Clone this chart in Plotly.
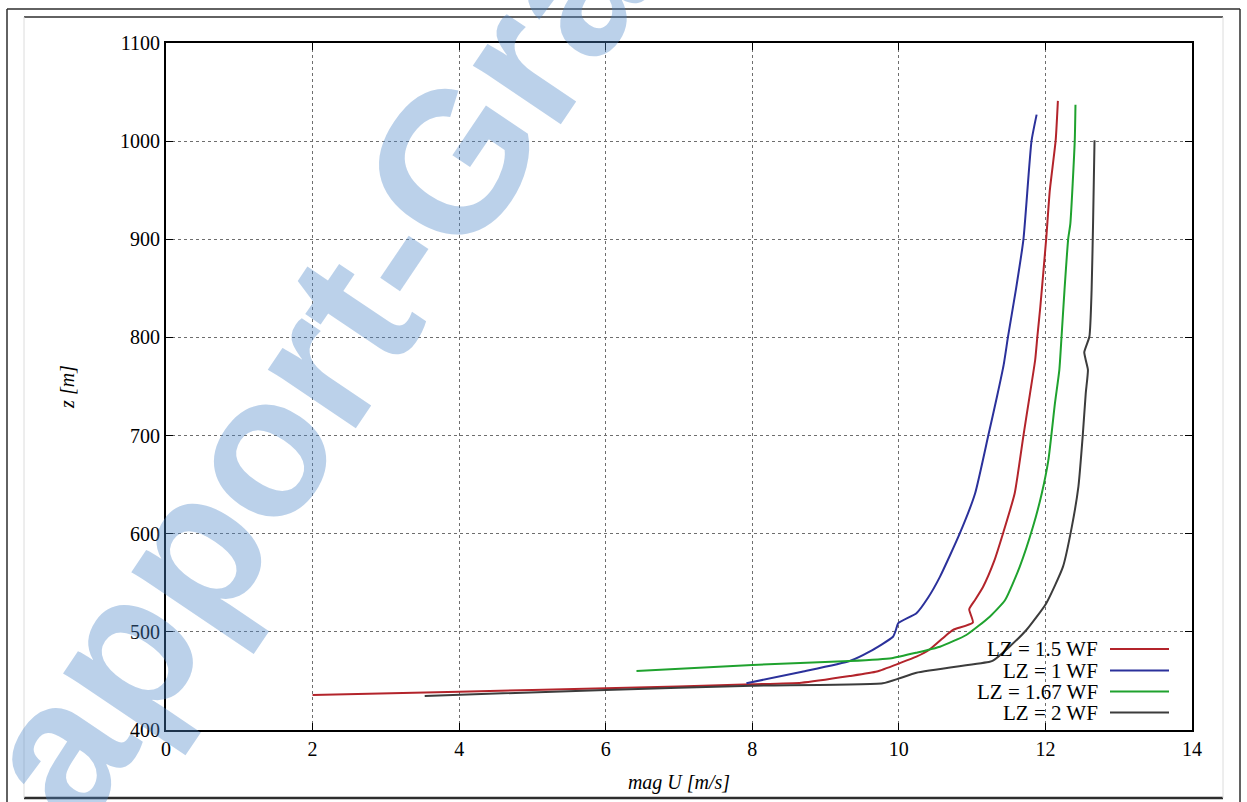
import plotly.graph_objects as go

# Wind speed magnitude profiles (mag U, m/s) against height z (m)
names = ["LZ = 1.5 WF", "LZ = 1 WF", "LZ = 1.67 WF", "LZ = 2 WF"]
colors = ["#b3242b", "#2b319b", "#1fa22e", "#3c3c3c"]

u_lz15 = [2.0, 4.0, 6.0, 8.0, 8.67, 9.33, 9.7, 10.01, 10.24, 10.42, 10.65, 10.74, 11.01,
          10.96, 11.04, 11.15, 11.30, 11.42, 11.58, 11.70, 11.79, 11.86, 11.89, 11.93,
          12.01, 12.06, 12.14, 12.17]
z_lz15 = [435.7, 439.1, 442.5, 446.5, 448.2, 455.0, 459.6, 468.0, 474.7, 482.0, 496.8, 502.0, 509.5,
          523.0, 532.5, 546.0, 572.0, 600.0, 641.0, 700.0, 743.0, 777.0, 801.0, 831.0,
          900.0, 950.0, 1001.0, 1041.0]

u_lz1 = [7.92, 8.68, 9.33, 9.60, 9.92, 9.96, 9.99, 10.24, 10.40, 10.56, 10.83, 11.04, 11.22,
         11.34, 11.43, 11.49, 11.60, 11.70, 11.81, 11.88]
z_lz1 = [447.6, 459.4, 470.3, 479.8, 495.0, 502.0, 508.7, 519.0, 535.0, 556.0, 600.0, 641.0, 700.0,
         740.0, 772.0, 801.0, 850.0, 900.0, 1000.0, 1027.0]

u_lz167 = [6.42, 8.0, 9.33, 9.90, 10.24, 10.56, 10.92, 11.24, 11.45, 11.65, 11.83, 11.95,
           12.04, 12.13, 12.19, 12.22, 12.26, 12.31, 12.34, 12.40, 12.41]
z_lz167 = [460.1, 466.3, 470.3, 473.2, 478.8, 484.9, 496.8, 515.5, 532.5, 566.5, 607.0, 641.0,
           675.0, 733.0, 767.0, 801.0, 848.0, 900.0, 916.0, 1000.0, 1037.0]

u_lz2 = [3.53, 6.0, 8.0, 9.78, 10.01, 10.24, 11.24, 11.29, 11.51, 11.74, 12.01, 12.24, 12.36,
         12.45, 12.51, 12.55, 12.58, 12.55, 12.53, 12.60, 12.63, 12.65, 12.67]
z_lz2 = [434.7, 440.8, 445.2, 447.6, 452.7, 458.4, 469.6, 471.0, 484.9, 501.9, 529.0, 566.5, 607.0,
         648.0, 700.7, 743.0, 767.0, 777.0, 785.0, 801.0, 848.0, 916.0, 1001.0]

u_series = [u_lz15, u_lz1, u_lz167, u_lz2]
z_series = [z_lz15, z_lz1, z_lz167, z_lz2]

x_ticks = [0, 2, 4, 6, 8, 10, 12, 14]
y_ticks = [400, 500, 600, 700, 800, 900, 1000, 1100]

W, H = 1247, 802
ML, MR, MT, MB = 166, 55, 43, 72
PW, PH = W - ML - MR, H - MT - MB


def fx(px):
    return (px - ML) / PW


def fy(py):
    return (H - MB - py) / PH


SERIF = "Liberation Serif, Times New Roman, Times, serif"

fig = go.Figure()
for name, col, u, z in zip(names, colors, u_series, z_series):
    fig.add_trace(go.Scatter(x=u, y=z, mode="lines", name=name,
                             line=dict(color=col, width=2, shape="spline", smoothing=0.5),
                             showlegend=False))

shapes = []
annotations = []

# key in the lower right: label text followed by a line sample
legend_rows = [649, 670.5, 691.5, 712.5]
for name, col, ry in zip(names, colors, legend_rows):
    annotations.append(dict(x=fx(1099), y=fy(ry), xref="paper", yref="paper",
                            text=name, showarrow=False, xanchor="right", yanchor="middle",
                            borderpad=0,
                            font=dict(family=SERIF, size=21, color="black")))
    shapes.append(dict(type="line", xref="paper", yref="paper",
                       x0=fx(1110), x1=fx(1169), y0=fy(ry), y1=fy(ry),
                       line=dict(color=col, width=2)))

# page frame lines
dark = dict(color="#2e2e2e", width=1.5)
light = dict(color="#dcdcdc", width=1)
for (x0, y0, x1, y1, ln) in [
    (7, 9, 1240, 9, dark), (7, 9, 7, 802, dark), (1240, 9, 1240, 802, dark),
    (24, 17, 1223, 17, dark), (24, 798, 1223, 798, dict(color="#2e2e2e", width=2.5)),
    (24, 17, 24, 798, light), (1223, 17, 1223, 798, light),
]:
    shapes.append(dict(type="line", xref="paper", yref="paper",
                       x0=fx(x0), x1=fx(x1), y0=fy(y0), y1=fy(y1), line=ln))

# watermark
annotations.append(dict(x=fx(312), y=fy(368), xref="paper", yref="paper",
                        text="<b>apport-Gra</b>", showarrow=False, textangle=-56,
                        xanchor="center", yanchor="middle",
                        font=dict(family="Liberation Sans, Arial, sans-serif", size=200,
                                  color="rgba(75,135,200,0.38)")))

axis_common = dict(
    showline=True, linecolor="black", linewidth=2, mirror="allticks",
    ticks="inside", ticklen=7, tickwidth=1, tickcolor="black",
    showgrid=True, gridcolor="#6e6e6e", gridwidth=1, griddash="dot",
    zeroline=False, tickfont=dict(family=SERIF, size=20, color="black"),
)

fig.update_layout(
    width=W, height=H,
    margin=dict(l=ML, r=MR, t=MT, b=MB),
    paper_bgcolor="white", plot_bgcolor="white",
    font=dict(family=SERIF, color="black"),
    xaxis=dict(range=[0, 14], tickvals=x_ticks, ticktext=[str(v) for v in x_ticks],
               title=dict(text="<i>mag U [m/s]</i>", standoff=16,
                          font=dict(family=SERIF, size=20, color="black")),
               **axis_common),
    yaxis=dict(range=[400, 1100], tickvals=y_ticks, ticktext=[str(v) for v in y_ticks],
               title=dict(text="<i>z [m]</i>", standoff=40,
                          font=dict(family=SERIF, size=20, color="black")),
               **axis_common),
    shapes=shapes,
    annotations=annotations,
    showlegend=False,
)

fig.write_html("out.html")
